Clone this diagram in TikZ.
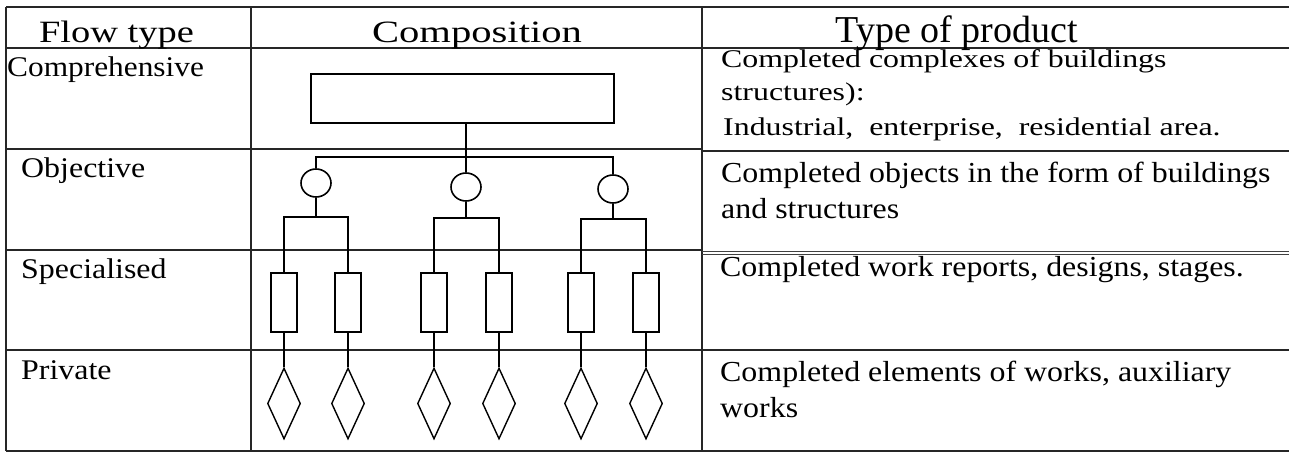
\documentclass[tikz,border=0pt]{standalone}
\usepackage{fontspec}
\setmainfont{Liberation Serif}
\usetikzlibrary{shapes.geometric}
\begin{document}
\begin{tikzpicture}[x=1pt,y=-1pt,
  grid/.style={line width=1.4pt, draw=black!85},
  thin grid/.style={line width=0.9pt, draw=black!75},
  link/.style={line width=1.6pt},
  box/.style={draw, line width=1.6pt, rectangle, inner sep=0pt},
  unit/.style={draw, line width=1.6pt, ellipse, minimum width=30pt, minimum height=28pt, inner sep=0pt},
  task/.style={draw, line width=1.6pt, rectangle, minimum width=26pt, minimum height=59pt, inner sep=0pt},
  elem/.style={draw, line width=1.4pt, diamond, minimum width=33pt, minimum height=71pt, inner sep=0pt},
  head/.style={font=\fontsize{31}{36}\selectfont, inner sep=0pt, anchor=base},
  kind/.style={font=\fontsize{28.5}{34}\selectfont, inner sep=0pt, anchor=base west},
  prod/.style={font=\fontsize{29}{34}\selectfont, inner sep=0pt, anchor=base west},
  prodtop/.style={font=\fontsize{25.5}{30}\selectfont, inner sep=0pt, anchor=base west},
]
\useasboundingbox (0,0) rectangle (1289,452);

% table rules
\draw[grid] (6,7) -- (1289,7);
\draw[grid] (6,7) -- (6,451);
\draw[grid] (251,7) -- (251,451);
\draw[grid] (702,7) -- (702,451);
\draw[grid] (6,48) -- (1289,48);
\draw[grid] (6,149) -- (702,149);
\draw[grid] (702,151) -- (1289,151);
\draw[grid] (6,250) -- (702,250);
\draw[thin grid] (702,251) -- (1289,251);
\draw[thin grid] (702,254) -- (1289,254);
\draw[grid] (6,350) -- (1289,350);
\draw[grid] (6,451) -- (1289,451);

% header row
\node[head] (hflow) at (116.5,43) {\scalebox{1.24}[1]{Flow type}};
\node[head] (hcomp) at (477,43) {\scalebox{1.31}[1]{Composition}};
\node[head, font=\fontsize{38}{44}\selectfont] (hprod) at (956.5,43) {Type of product};

% flow types
\node[kind] (k1) at (7,77) {\scalebox{1.1}[1]{Comprehensive}};
\node[kind] (k2) at (21,177) {\scalebox{1.12}[1]{Objective}};
\node[kind] (k3) at (21,278) {\scalebox{1.12}[1]{Specialised}};
\node[kind] (k4) at (21,379) {\scalebox{1.12}[1]{Private}};

% products
\node[prodtop] (p1a) at (721,67) {\scalebox{1.25}[1]{Completed complexes of buildings}};
\node[prodtop] (p1b) at (721,100) {\scalebox{1.25}[1]{structures):}};
\node[prodtop] (p1c) at (723,135) {\scalebox{1.25}[1]{Industrial,\ \ enterprise,\ \ residential area.}};
\node[prod] (p2a) at (721,182) {\scalebox{1.1}[1]{Completed objects in the form of buildings}};
\node[prod] (p2b) at (721,218) {\scalebox{1.1}[1]{and structures}};
\node[prod] (p3a) at (720,276) {\scalebox{1.1}[1]{Completed work reports, designs, stages.}};
\node[prod] (p4a) at (720,381) {\scalebox{1.1}[1]{Completed elements of works, auxiliary}};
\node[prod] (p4b) at (720,417) {\scalebox{1.1}[1]{works}};

% composition tree
\node[box, minimum width=303pt, minimum height=49pt] (top) at (462.5,98.5) {};
\node[unit] (c1) at (316,183) {};
\node[unit] (c2) at (466,187) {};
\node[unit] (c3) at (613,189) {};

\foreach \i/\x in {1/284,2/348,3/434,4/499,5/581,6/646}{
  \node[task] (r\i) at (\x,302.5) {};
  \node[elem] (d\i) at (\x,403.5) {};
  \draw[link] (r\i.south) -- (d\i.north);
}

\coordinate (j1) at (316,157);
\coordinate (j3) at (613,157);
\draw[link] (c2.north |- top.south) -- (c2.north);
\draw[link] (c1.north) -- (j1) -- (j3) -- (c3.north);

\coordinate (g1) at (316,217);
\coordinate (g2) at (466,218);
\coordinate (g3) at (613,219);
\draw[link] (c1.south) -- (g1);
\draw[link] (c2.south) -- (g2);
\draw[link] (c3.south) -- (g3);
\draw[link] (r1.north) |- (g1) -| (r2.north);
\draw[link] (r3.north) |- (g2) -| (r4.north);
\draw[link] (r5.north) |- (g3) -| (r6.north);
\end{tikzpicture}
\end{document}
